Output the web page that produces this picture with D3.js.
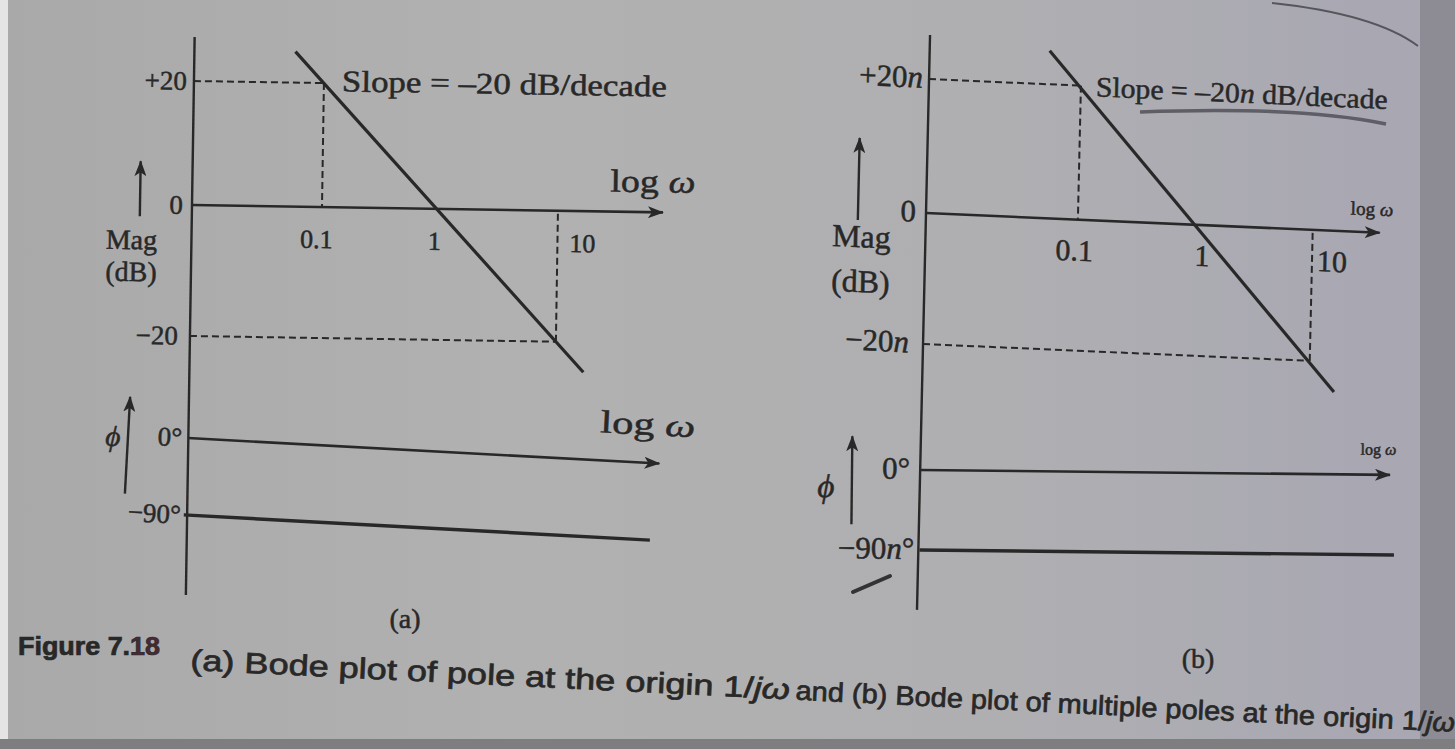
<!DOCTYPE html>
<html>
<head>
<meta charset="utf-8">
<script src="https://cdn.jsdelivr.net/npm/d3@7"></script>
<style>
    body { margin: 0; overflow: hidden; background: #aaa; }
    text { font-family: "Liberation Serif", "Times New Roman", serif; fill: #282828; stroke: #282828; stroke-width: 0.5px; }
    .cap { font-family: "Liberation Sans", Arial, sans-serif; stroke-width: 0.7px; }
</style>
</head>
<body>
<svg id="fig"></svg>
<script>
// ---- values ----
const decades = [0.1, 1, 10];
const decadeLabels = ['0.1', '1', '10'];
const magLevels = [20, 0, -20];
const magLabelsA = ['+20', '0', '\u221220'];
const magLabelsB = ['+20<i>n</i>', '0', '\u221220<i>n</i>'];
// corners of the dashed guides (omega, dB)
const cornerOmega = [0.1, 10];
const cornerDb = [20, -20];
// straight asymptote, -20 dB/decade through 0 dB at omega = 1
const asymOmega = [0.056, 17];
const asymDb = [25, -24.6];
const phaseLevels = [0, -90];
const phaseLabelsA = ['0\u00b0', '\u221290\u00b0'];
const phaseLabelsB = ['0\u00b0', '\u221290<i>n</i>\u00b0'];
const phaseOmegaA = [0.0074, 68];
const phaseOmegaB = [0.0064, 65];
const phaseDeg = [-90, -90];

const W = 1455, H = 749;
const ink = '#282828';

const svg = d3.select('#fig').attr('width', W).attr('height', H);
const defs = svg.append('defs');

// photographed page background
const bg = defs.append('linearGradient').attr('id', 'paper');
[[0, '#a9a9a9'], [0.35, '#b1b1b1'], [0.7, '#afafb2'], [0.97, '#a8a7b2']].forEach(s => {
    bg.append('stop').attr('offset', s[0]).attr('stop-color', s[1]);
});
svg.append('rect').attr('width', W).attr('height', H).attr('fill', 'url(#paper)');
svg.append('rect').attr('x', 1420).attr('width', 35).attr('height', H).attr('fill', '#8d8c94');
svg.append('rect').attr('width', 8).attr('height', H).attr('fill', '#e4e4e4');
svg.append('rect').attr('y', 739).attr('width', W).attr('height', 10).attr('fill', '#7e7e80');
svg.append('path')
    .attr('d', 'M1272,3 Q1375,14 1418,46')
    .attr('fill', 'none').attr('stroke', '#55555c').attr('stroke-width', 2);

defs.append('marker')
    .attr('id', 'arrow')
    .attr('markerUnits', 'userSpaceOnUse')
    .attr('viewBox', '0 0 16 12')
    .attr('markerWidth', 16)
    .attr('markerHeight', 12)
    .attr('refX', 15)
    .attr('refY', 6)
    .attr('orient', 'auto')
    .append('path')
    .attr('d', 'M0,0 L16,6 L0,12 L4,6 Z')
    .attr('fill', ink);

function rich(sel, str) {
    str.split(/(<i>.*?<\/i>)/).filter(s => s).forEach(s => {
        const it = s.startsWith('<i>');
        sel.append('tspan')
            .text(it ? s.slice(3, -4) : s)
            .attr('font-style', it ? 'italic' : null);
    });
}

function label(g, str, x, y, opt = {}) {
    const t = g.append('text')
        .attr('x', x)
        .attr('y', y)
        .attr('text-anchor', opt.anchor || 'start')
        .attr('font-size', opt.size || 27);
    if (opt.len) t.attr('textLength', opt.len).attr('lengthAdjust', 'spacingAndGlyphs');
    if (opt.cls) t.attr('class', opt.cls);
    rich(t, str);
    return t;
}

function seg(g, x1, y1, x2, y2, w, dash) {
    return g.append('line')
        .attr('x1', x1).attr('y1', y1).attr('x2', x2).attr('y2', y2)
        .attr('stroke', ink)
        .attr('stroke-width', w)
        .attr('stroke-dasharray', dash || null);
}

function upArrow(g, x, y1, y2) {
    seg(g, x, y1, x, y2, 2.4).attr('marker-end', 'url(#arrow)');
}

// layout of the two photographed panels (page is slightly tilted)
const panels = [
    {
        mag: { at: [192, 205], rot: 0.9, skew: 0, xr: [130, 245, 366], yr: [-124, 0, 131],
            axisEnd: 471, vAxis: [-168, 390] },
        phase: { at: [188, 438], rot: 3.1, yr: [0, 77], axisEnd: 472 },
        levels: magLabelsA, levelDx: [-7, -9, -12], size: 27,
        tickDx: [-5, -2, 25],
        slope: { text: 'Slope = \u201320 dB/decade', x: 148, y: -116, len: 325, size: 30 },
        logMag: { x: 503, y: -20, len: 85, size: 32 },
        magText: { x: -60, y1: 45, y2: 77, arrow: [-52, 12, -43] },
        phaseLabels: phaseLabelsA, phaseDx: [-6, -3],
        phi: { x: -75, y: 12, arrow: [-60, 59, -38] },
        logPhase: { x: 506, y: -28, len: 95, size: 32 },
        phaseOmega: phaseOmegaA,
        name: { text: '(a)', x: 405, y: 628 }
    },
    {
        mag: { at: [926, 213], rot: 1.3, skew: 1.2, xr: [152, 279, 387], yr: [-134, 0, 131],
            axisEnd: 454, vAxis: [-178, 397] },
        phase: { at: [920, 470], rot: 0.6, yr: [0, 80], axisEnd: 470 },
        levels: magLabelsB, levelDx: [-6, -10, -14], size: 31,
        tickDx: [-3, -2, 20],
        slope: { text: 'Slope = \u201320<i>n</i> dB/decade', x: 167, y: -124, len: 292, size: 28 },
        logMag: { x: 467, y: -17, size: 19 },
        magText: { x: -64, y1: 37, y2: 82, arrow: [-68, 10, -72] },
        phaseLabels: phaseLabelsB, phaseDx: [-10, -5],
        phi: { x: -94, y: 28, arrow: [-68, 55, -33] },
        logPhase: { x: 476, y: -20, size: 16 },
        phaseOmega: phaseOmegaB,
        name: { text: '(b)', x: 1198, y: 668 }
    }
];

panels.forEach(p => {
    const m = p.mag;
    const x = d3.scaleLog().domain(decades).range(m.xr);
    const y = d3.scaleLinear().domain(magLevels).range(m.yr);

    // ---- magnitude ----
    const g = svg.append('g')
        .attr('transform', `translate(${m.at[0]},${m.at[1]}) rotate(${m.rot}) skewY(${m.skew})`);

    seg(g, 0, m.vAxis[0], 0, m.vAxis[1], 2.4);
    seg(g, 0, y(0), m.axisEnd, y(0), 2.6).attr('marker-end', 'url(#arrow)');

    cornerOmega.forEach((w, i) => {
        seg(g, 0, y(cornerDb[i]), x(w), y(cornerDb[i]), 2, '7,4');
        seg(g, x(w), y(cornerDb[i]), x(w), y(0), 2, '7,4');
    });

    g.append('path')
        .datum(d3.zip(asymOmega, asymDb))
        .attr('d', d3.line().x(d => x(d[0])).y(d => y(d[1])))
        .attr('fill', 'none')
        .attr('stroke', ink)
        .attr('stroke-width', 3.2);

    magLevels.forEach((v, i) => {
        label(g, p.levels[i], p.levelDx[i], y(v) + 9, { anchor: 'end', size: p.size });
    });
    decades.forEach((w, i) => {
        label(g, decadeLabels[i], x(w) + p.tickDx[i], 41, { anchor: 'middle', size: p.size - 1 });
    });

    label(g, p.slope.text, p.slope.x, p.slope.y, { size: p.slope.size, len: p.slope.len });
    label(g, 'log <i>\u03c9</i>', p.logMag.x, p.logMag.y,
        { anchor: 'end', size: p.logMag.size, len: p.logMag.len });

    label(g, 'Mag', p.magText.x, p.magText.y1, { anchor: 'middle', size: p.size + 1 });
    label(g, '(dB)', p.magText.x, p.magText.y2, { anchor: 'middle', size: p.size + 1 });
    upArrow(g, p.magText.arrow[0], p.magText.arrow[1], p.magText.arrow[2]);

    // ---- phase ----
    const ph = p.phase;
    const yp = d3.scaleLinear().domain(phaseLevels).range(ph.yr);
    const gp = svg.append('g')
        .attr('transform', `translate(${ph.at[0]},${ph.at[1]}) rotate(${ph.rot})`);

    seg(gp, 0, yp(0), ph.axisEnd, yp(0), 2.6).attr('marker-end', 'url(#arrow)');

    gp.append('path')
        .datum(d3.zip(p.phaseOmega, phaseDeg))
        .attr('d', d3.line().x(d => x(d[0])).y(d => yp(d[1])))
        .attr('fill', 'none')
        .attr('stroke', ink)
        .attr('stroke-width', 3.4);

    phaseLevels.forEach((v, i) => {
        label(gp, p.phaseLabels[i], p.phaseDx[i], yp(v) + 9, { anchor: 'end', size: p.size });
    });
    label(gp, '<i>\u03d5</i>', p.phi.x, p.phi.y, { anchor: 'middle', size: p.size + 2 });
    upArrow(gp, p.phi.arrow[0], p.phi.arrow[1], p.phi.arrow[2]);
    label(gp, 'log <i>\u03c9</i>', p.logPhase.x, p.logPhase.y,
        { anchor: 'end', size: p.logPhase.size, len: p.logPhase.len });

    label(svg, p.name.text, p.name.x, p.name.y, { anchor: 'middle', size: 28 });
});

// marks left on the page
svg.append('path')
    .attr('d', 'M1140,112 Q1300,106 1386,124')
    .attr('fill', 'none').attr('stroke', '#5f5e66').attr('stroke-width', 3.5);
svg.append('path')
    .attr('d', 'M853,592 L890,576')
    .attr('fill', 'none').attr('stroke', '#333').attr('stroke-width', 4).attr('stroke-linecap', 'round');

// ---- caption ----
const fig = label(svg, '', 18, 655, { size: 25, len: 142, cls: 'cap' }).attr('font-weight', 'bold');
fig.append('tspan').text('Figure 7.');
fig.append('tspan').text('18').style('fill', '#4a2a33');

const cap = svg.append('g').attr('transform', 'translate(190,670) rotate(2.8)');
label(cap, '(a) Bode plot of pole at the origin 1/<i>j\u03c9</i>', 0, 0, { size: 29, len: 600, cls: 'cap' });
label(cap, 'and (b) Bode plot of multiple poles at the origin 1/<i>j\u03c9</i>', 606, 0, { size: 27, len: 660, cls: 'cap' });
</script>
</body>
</html>
